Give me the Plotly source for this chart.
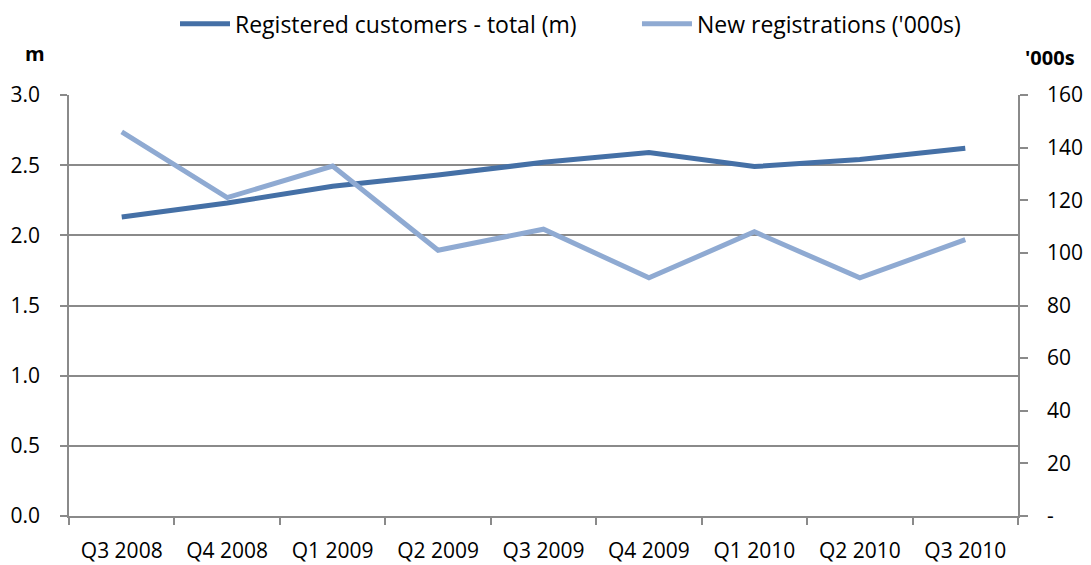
import plotly.graph_objects as go

quarters = ["Q3 2008", "Q4 2008", "Q1 2009", "Q2 2009", "Q3 2009",
            "Q4 2009", "Q1 2010", "Q2 2010", "Q3 2010"]
registered_total_m = [2.13, 2.23, 2.35, 2.43, 2.52, 2.59, 2.49, 2.54, 2.62]
new_registrations_k = [146, 121, 133, 101, 109, 90.5, 108, 90.5, 105]

left_ticks = [0, 0.5, 1.0, 1.5, 2.0, 2.5, 3.0]
right_ticks = [0, 20, 40, 60, 80, 100, 120, 140, 160]
right_ticktext = ["-", "20", "40", "60", "80", "100", "120", "140", "160"]

DARK = "#4570A6"
LIGHT = "#8FAAD2"
GRID = "#8A8A8A"
FONT = "Open Sans"

fig = go.Figure()
fig.add_trace(go.Scatter(x=quarters, y=registered_total_m, mode="lines",
                         name="Registered customers - total (m)",
                         line=dict(color=DARK, width=5), yaxis="y",
                         legend="legend"))
fig.add_trace(go.Scatter(x=quarters, y=new_registrations_k, mode="lines",
                         name="New registrations ('000s)",
                         line=dict(color=LIGHT, width=5), yaxis="y2",
                         legend="legend2"))

legend_common = dict(orientation="h", xanchor="left", yanchor="top",
                     yref="paper", y=1.22,
                     font=dict(family=FONT, size=23, color="#000000"),
                     itemwidth=50, bgcolor="rgba(0,0,0,0)")

fig.update_layout(
    width=1083, height=557,
    margin=dict(l=61, r=73, t=87, b=49, autoexpand=False),
    paper_bgcolor="white", plot_bgcolor="white",
    font=dict(family=FONT, size=21, color="#000000"),
    showlegend=True,
    legend=dict(x=0.1117, **legend_common),
    legend2=dict(x=0.5985, **legend_common),
    xaxis=dict(type="category", range=[-0.5, 8.5], showgrid=False,
               showline=True, linecolor=GRID, linewidth=1.5,
               ticks="outside", tickson="boundaries", ticklen=7,
               tickcolor=GRID, tickwidth=1.5, ticklabelstandoff=15,
               automargin=False,
               tickfont=dict(family=FONT, size=21), fixedrange=True),
    yaxis=dict(range=[0, 3.0], tickvals=left_ticks, tickformat=".1f",
               showgrid=True, gridcolor=GRID, gridwidth=1.5,
               showline=True, linecolor=GRID, linewidth=1.5,
               ticks="outside", ticklen=7, tickcolor=GRID, tickwidth=1.5,
               zeroline=False, ticklabelstandoff=16, automargin=False,
               tickfont=dict(family=FONT, size=21), fixedrange=True),
    yaxis2=dict(range=[0, 160], tickvals=right_ticks, ticktext=right_ticktext,
                overlaying="y", side="right", showgrid=False,
                showline=True, linecolor=GRID, linewidth=1.5,
                ticks="outside", ticklen=8, tickcolor=GRID, tickwidth=1.5,
                zeroline=False, ticklabelstandoff=15, automargin=False,
                tickfont=dict(family=FONT, size=21), fixedrange=True),
    annotations=[
        dict(text="<b>m</b>", xref="paper", yref="paper", x=-0.036, y=1.0,
             xanchor="center", yanchor="bottom", yshift=26, showarrow=False,
             font=dict(family=FONT, size=20)),
        dict(text="<b>'000s</b>", xref="paper", yref="paper", x=1.034, y=1.0,
             xanchor="center", yanchor="bottom", yshift=22, showarrow=False,
             font=dict(family=FONT, size=20)),
    ],
)

fig.write_html("out.html")
